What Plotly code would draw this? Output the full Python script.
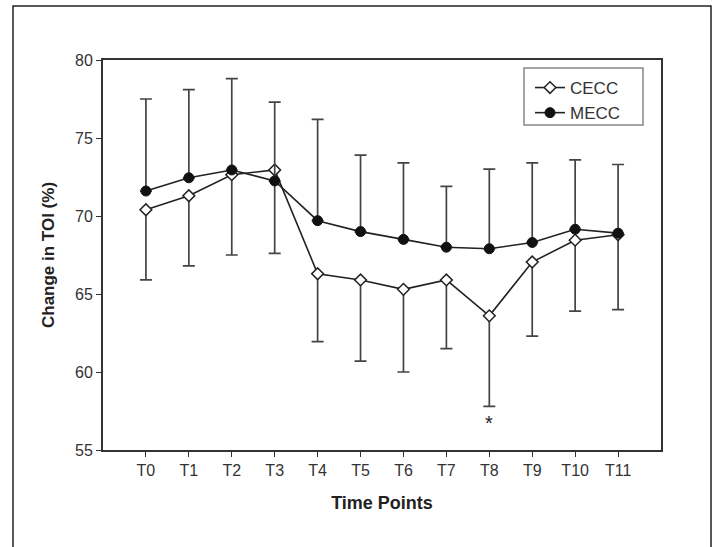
import plotly.graph_objects as go

time_points = ["T0", "T1", "T2", "T3", "T4", "T5", "T6", "T7", "T8", "T9", "T10", "T11"]

cecc_mean = [70.4, 71.3, 72.65, 72.95, 66.3, 65.9, 65.3, 65.9, 63.6, 67.05, 68.45, 68.8]
cecc_sd = [4.5, 4.5, 5.15, 5.35, 4.35, 5.2, 5.3, 4.4, 5.8, 4.75, 4.55, 4.8]

mecc_mean = [71.6, 72.45, 72.95, 72.25, 69.7, 69.0, 68.5, 68.0, 67.9, 68.3, 69.15, 68.9]
mecc_sd = [5.9, 5.65, 5.85, 5.05, 6.5, 4.9, 4.9, 3.9, 5.1, 5.1, 4.45, 4.4]

significant = ["T8"]

FONT = "Arial, Liberation Sans, sans-serif"
INK = "#222222"
BAR = "#444444"

fig = go.Figure()

fig.add_trace(go.Scatter(
    x=time_points, y=cecc_mean, name="CECC", mode="lines+markers",
    line=dict(color=INK, width=1.6),
    marker=dict(symbol="diamond", size=9, color="white", line=dict(color=INK, width=1.5)),
    error_y=dict(type="data", symmetric=False, array=[0] * len(cecc_sd), arrayminus=cecc_sd,
                 color=BAR, thickness=1.7, width=6),
))
fig.add_trace(go.Scatter(
    x=time_points, y=mecc_mean, name="MECC", mode="lines+markers",
    line=dict(color=INK, width=1.6),
    marker=dict(symbol="circle", size=10, color="#111111", line=dict(color="#111111", width=1)),
    error_y=dict(type="data", symmetric=False, array=mecc_sd, arrayminus=[0] * len(mecc_sd),
                 color=BAR, thickness=1.7, width=6),
))

for tp in significant:
    i = time_points.index(tp)
    fig.add_annotation(x=tp, y=cecc_mean[i] - cecc_sd[i] - 1.05, text="*", showarrow=False,
                       font=dict(family=FONT, size=20, color=INK), yanchor="middle")

L, R, T, B = 103, 57, 60, 97
W, H = 718, 547
pw, ph = W - L - R, H - T - B


def px_x(px):
    return (px - L) / pw


def px_y(py):
    return (H - B - py) / ph


# outer frame of the figure panel
fig.add_shape(type="rect", xref="paper", yref="paper",
              x0=px_x(13), x1=px_x(711), y0=px_y(560), y1=px_y(6),
              line=dict(color="#222222", width=1.5), fillcolor="rgba(0,0,0,0)", layer="below")
# legend frame
fig.add_shape(type="rect", xref="paper", yref="paper",
              x0=px_x(524), x1=px_x(643), y0=px_y(125), y1=px_y(68),
              line=dict(color="#888888", width=1.5), fillcolor="white", layer="below")

fig.update_layout(
    width=W, height=H,
    margin=dict(l=L, r=R, t=T, b=B),
    paper_bgcolor="white", plot_bgcolor="rgba(0,0,0,0)",
    font=dict(family=FONT, size=16, color="#333333"),
    showlegend=True,
    legend=dict(x=px_x(530), y=px_y(70), xanchor="left", yanchor="top",
                borderwidth=0, bgcolor="rgba(0,0,0,0)",
                font=dict(family=FONT, size=17, color="#333333"),
                itemwidth=30),
    xaxis=dict(
        type="category", range=[-1, 12],
        showline=True, linecolor="#333333", linewidth=1.8, mirror=True,
        ticks="outside", ticklen=5, tickwidth=1.2, tickcolor="#333333",
        showgrid=False, zeroline=False,
        tickfont=dict(family=FONT, size=16, color="#333333"),
        title=dict(text="<b>Time Points</b>", font=dict(family=FONT, size=18, color="#222222"),
                   standoff=18),
    ),
    yaxis=dict(
        range=[55, 80], tickvals=[55, 60, 65, 70, 75, 80],
        showline=True, linecolor="#333333", linewidth=1.8, mirror=True,
        ticks="outside", ticklen=5, tickwidth=1.2, tickcolor="#333333",
        showgrid=False, zeroline=False,
        tickfont=dict(family=FONT, size=16, color="#333333"),
        title=dict(text="<b>Change in TOI (%)</b>", font=dict(family=FONT, size=17, color="#222222"),
                   standoff=16),
    ),
)

fig.write_html("out.html")
